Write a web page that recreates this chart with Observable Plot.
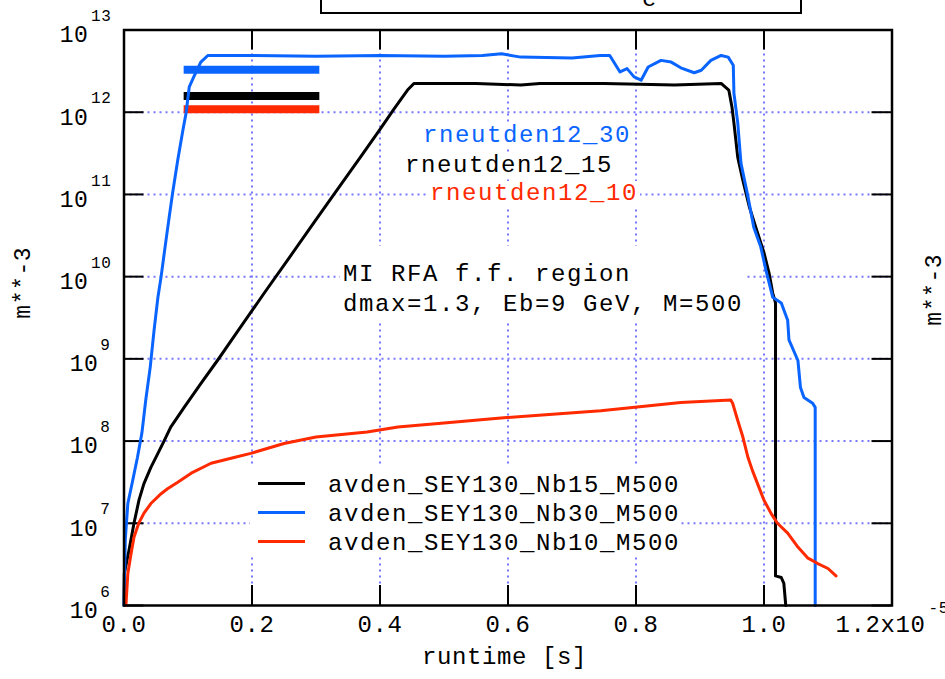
<!DOCTYPE html>
<html><head><meta charset="utf-8">
<script src="https://cdn.jsdelivr.net/npm/d3@7"></script>
<script src="https://cdn.jsdelivr.net/npm/@observablehq/plot@0.6"></script>
<style>
html,body{margin:0;padding:0;background:#fff;}
#wrap{position:relative;width:945px;height:679px;overflow:hidden;font-family:"Liberation Mono",monospace;}
.ov{position:absolute;white-space:pre;font-size:24px;letter-spacing:1.6px;}
</style></head><body><div id="wrap"></div>
<script>
// ---- axis ticks ----
const xTicks = [0, 0.2, 0.4, 0.6, 0.8, 1.0, 1.2];
const xTickLabels = ["0.0", "0.2", "0.4", "0.6", "0.8", "1.0", "1.2x10"];
const xExponentLabel = "-5";
const xGrid = [0.2, 0.4, 0.6, 0.8, 1.0];
const yTicks = [1e6, 1e7, 1e8, 1e9, 1e10, 1e11, 1e12, 1e13];
const yExponents = ["6", "7", "8", "9", "10", "11", "12", "13"];
const yGrid = [1e7, 1e8, 1e9, 1e10, 1e11, 1e12];
const xTitle = "runtime [s]";
const yTitle = "m**-3";

// ---- series: avden_SEY130_Nb15_M500 (black) ----
const nb15X = [0.000, 0.0005, 0.0078, 0.0156, 0.0234, 0.031, 0.042, 0.053, 0.0625, 0.073, 0.094, 0.120, 0.146, 0.178, 0.22, 0.26, 0.297, 0.328, 0.37, 0.40, 0.422, 0.443, 0.453, 0.55, 0.62, 0.65, 0.75, 0.86, 0.933, 0.945, 0.950, 0.953, 0.959, 0.967, 0.977, 0.990, 1.000, 1.008, 1.0136, 1.018, 1.018, 1.027, 1.031, 1.034];
const nb15Y = [1e6, 2.45e6, 4.68e6, 1e7, 1.91e7, 3.02e7, 4.79e7, 7.08e7, 1e8, 1.48e8, 2.57e8, 5.01e8, 9.55e8, 2.19e9, 6.46e9, 1.78e10, 4.57e10, 1.0e11, 2.88e11, 6.17e11, 1.10e12, 1.86e12, 2.24e12, 2.24e12, 2.14e12, 2.24e12, 2.24e12, 2.14e12, 2.24e12, 1.86e12, 1.15e12, 7.41e11, 2.82e11, 1.48e11, 7.08e10, 3.39e10, 1.95e10, 1.10e10, 6.31e9, 4.79e9, 2.29e6, 2.19e6, 1.86e6, 1e6];

// ---- series: avden_SEY130_Nb30_M500 (blue) ----
const nb30X = [0.000, 0.001, 0.002, 0.006, 0.013, 0.021, 0.028, 0.034, 0.041, 0.047, 0.053, 0.058, 0.064, 0.070, 0.076, 0.084, 0.092, 0.097, 0.102, 0.109, 0.120, 0.131, 0.2, 0.3, 0.4, 0.5, 0.56, 0.59, 0.62, 0.70, 0.744, 0.759, 0.775, 0.786, 0.797, 0.808, 0.819, 0.839, 0.855, 0.870, 0.891, 0.902, 0.917, 0.933, 0.944, 0.952, 0.953, 0.959, 0.964, 0.975, 0.984, 0.995, 1.003, 1.0136, 1.027, 1.037, 1.039, 1.053, 1.057, 1.0625, 1.076, 1.080, 1.080];
const nb30Y = [1e6, 2.51e6, 6.31e6, 1.74e7, 3.16e7, 6.31e7, 1.26e8, 3.16e8, 7.94e8, 2.24e9, 5.62e9, 1.0e10, 2.24e10, 4.90e10, 1.05e11, 2.63e11, 6.03e11, 9.77e11, 2.04e12, 2.69e12, 4.07e12, 4.90e12, 4.90e12, 4.79e12, 4.90e12, 4.79e12, 4.90e12, 5.13e12, 4.68e12, 4.57e12, 4.90e12, 4.90e12, 3.09e12, 3.39e12, 2.69e12, 2.45e12, 3.55e12, 4.27e12, 4.07e12, 3.47e12, 3.02e12, 3.24e12, 4.27e12, 4.90e12, 4.68e12, 3.72e12, 1.70e12, 7.41e11, 2.40e11, 9.33e10, 3.98e10, 2.29e10, 1.20e10, 5.62e9, 4.79e9, 2.95e9, 1.70e9, 9.55e8, 4.47e8, 3.39e8, 2.88e8, 2.57e8, 1e6];

// ---- series: avden_SEY130_Nb10_M500 (red) ----
const nb10X = [0.003, 0.006, 0.011, 0.0156, 0.023, 0.031, 0.042, 0.058, 0.068, 0.084, 0.105, 0.136, 0.172, 0.198, 0.25, 0.30, 0.38, 0.428, 0.5, 0.589, 0.745, 0.87, 0.948, 0.951, 0.959, 0.967, 0.975, 0.982, 0.992, 1.0, 1.011, 1.021, 1.037, 1.053, 1.068, 1.084, 1.1, 1.1125];
const nb10Y = [1e6, 2.45e6, 4.27e6, 6.76e6, 1e7, 1.32e7, 1.74e7, 2.29e7, 2.63e7, 3.16e7, 4.07e7, 5.37e7, 6.31e7, 7.08e7, 9.33e7, 1.12e8, 1.29e8, 1.48e8, 1.66e8, 1.91e8, 2.34e8, 2.95e8, 3.16e8, 2.88e8, 1.78e8, 1.12e8, 6.31e7, 4.37e7, 2.75e7, 1.91e7, 1.32e7, 1e7, 7.59e6, 5.13e6, 3.80e6, 3.24e6, 2.82e6, 2.29e6];

// ---- rneutden12 reference levels ----
const rneutNames = ["rneutden12_30", "rneutden12_15", "rneutden12_10"];
const rneutValues = [3.29e12, 1.58e12, 1.09e12];
const rneutStart = 0.094;
const rneutEnd = 0.306;

const seriesNames = ["avden_SEY130_Nb15_M500", "avden_SEY130_Nb30_M500", "avden_SEY130_Nb10_M500"];
const annotationLines = ["MI RFA f.f. region", "dmax=1.3, Eb=9 GeV, M=500"];
const titleFragment = "e";

// ---- styling ----
const BLACK = "#000000", BLUE = "#0a64ff", RED = "#ff2a00", GRID = "#7878ff";
const seriesColors = [BLACK, BLUE, RED];
const rneutColors = [BLUE, BLACK, RED];

const rows = (xs, ys) => xs.map((x, i) => ({x, y: ys[i]}));
const rneutRows = rneutNames.map((n, i) => ({name: n, v: rneutValues[i], c: rneutColors[i]}));
const yLab = yTicks.map((v, i) => ({v, e: yExponents[i]}));
const yLab2 = yLab.filter(d => d.e.length > 1);
const yLab1 = yLab.filter(d => d.e.length === 1);
const xLab = xTicks.map((v, i) => ({v, t: xTickLabels[i]}));

const gridOpts = {stroke: GRID, strokeOpacity: 1, strokeWidth: 2, strokeDasharray: "2,4"};

const chart = Plot.plot({
  width: 945, height: 679,
  marginLeft: 123.5, marginRight: 53.5, marginTop: 29.5, marginBottom: 74,
  style: {fontFamily: '"Liberation Mono", monospace', background: "#fff", letterSpacing: "0.6px", color: "#000"},
  x: {domain: [0, 1.2], axis: null},
  y: {type: "log", domain: [1e6, 1e13], axis: null},
  marks: [
    Plot.gridX(xGrid, gridOpts),
    Plot.gridY(yGrid, gridOpts),
    Plot.tickX(xTicks, {x: d => d, insetTop: 555.5, stroke: BLACK, strokeWidth: 2}),
    Plot.tickX(xTicks, {x: d => d, insetBottom: 555.5, stroke: BLACK, strokeWidth: 2}),
    Plot.tickY(yTicks, {y: d => d, insetRight: 748, stroke: BLACK, strokeWidth: 2}),
    Plot.tickY(yTicks, {y: d => d, insetLeft: 748, stroke: BLACK, strokeWidth: 2}),
    Plot.ruleY(rneutRows, {y: "v", x1: () => rneutStart, x2: () => rneutEnd, stroke: "c", strokeWidth: 8}),
    Plot.line(rows(nb15X, nb15Y), {x: "x", y: "y", stroke: BLACK, strokeWidth: 3}),
    Plot.line(rows(nb30X, nb30Y), {x: "x", y: "y", stroke: BLUE, strokeWidth: 3}),
    Plot.line(rows(nb10X, nb10Y), {x: "x", y: "y", stroke: RED, strokeWidth: 3}),
    Plot.frame({stroke: BLACK, strokeWidth: 2.5}),
    // x tick labels
    Plot.text(xLab.slice(0, 6), {x: "v", text: "t", frameAnchor: "bottom", dy: 26, fontSize: 24}),
    Plot.text(xLab.slice(6), {x: "v", text: "t", frameAnchor: "bottom", textAnchor: "end", dx: 33.5, dy: 26, fontSize: 24}),
    Plot.text([xExponentLabel], {x: () => 1.2, text: d => d, frameAnchor: "bottom", textAnchor: "start", dx: 36.5, dy: 7, fontSize: 16}),
    // y tick labels
    Plot.text(yLab2, {y: "v", text: () => "10", frameAnchor: "left", textAnchor: "end", dx: -35.5, dy: 5, fontSize: 23}),
    Plot.text(yLab2, {y: "v", text: "e", frameAnchor: "left", textAnchor: "end", dx: -12.5, dy: -14, fontSize: 16}),
    Plot.text(yLab1, {y: "v", text: () => "10", frameAnchor: "left", textAnchor: "end", dx: -25.5, dy: 5, fontSize: 23}),
    Plot.text(yLab1, {y: "v", text: "e", frameAnchor: "left", textAnchor: "end", dx: -13.5, dy: -14, fontSize: 16}),
    // axis titles
    Plot.text([xTitle], {text: d => d, frameAnchor: "bottom", textAnchor: "middle", dx: -3.5, dy: 58, fontSize: 24}),
    Plot.text([yTitle], {text: d => d, frameAnchor: "left", textAnchor: "middle", rotate: -90, dx: -101.5, dy: -35, fontSize: 23}),
    Plot.text([yTitle], {text: d => d, frameAnchor: "right", textAnchor: "middle", rotate: -90, dx: 41.5, dy: -28, fontSize: 23})
  ]
});

const wrap = document.getElementById("wrap");
wrap.appendChild(chart);

function addDiv(css, text) {
  const d = document.createElement("div");
  d.className = "ov";
  Object.assign(d.style, css);
  if (text != null) d.textContent = text;
  wrap.appendChild(d);
  return d;
}

// title box (cut off at top)
const tb = addDiv({left: "320px", top: "-40px", width: "478px", height: "50px", border: "2px solid #000", background: "#fff", overflow: "hidden"});
const tf = document.createElement("div");
tf.textContent = titleFragment;
Object.assign(tf.style, {position: "absolute", left: "320px", top: "22.6px", lineHeight: "30px", fontSize: "24px"});
tb.appendChild(tf);

// rneutden labels
const rnLeft = [423, 405, 430], rnBase = [142, 172, 200];
rneutNames.forEach((n, i) => {
  addDiv({left: (rnLeft[i] - 2) + "px", top: (rnBase[i] - 19.4) + "px", lineHeight: "26px", padding: "0 2px", background: "#fff", color: rneutColors[i]}, n);
});

// MI RFA annotation
addDiv({left: "340px", top: "246px", lineHeight: "30px", padding: "14px 3px 0 3px", background: "#fff", color: "#000"}, annotationLines.join("\n"));

// legend
addDiv({left: "250px", top: "467px", width: "430px", height: "90px", background: "#fff"});
const legBase = [492, 521, 550];
seriesNames.forEach((n, i) => {
  addDiv({left: "258px", top: (legBase[i] - 10.5) + "px", width: "47px", height: "3px", background: seriesColors[i]});
  addDiv({left: "328px", top: (legBase[i] - 21.4) + "px", lineHeight: "30px", color: "#000"}, n);
});
</script></body></html>
